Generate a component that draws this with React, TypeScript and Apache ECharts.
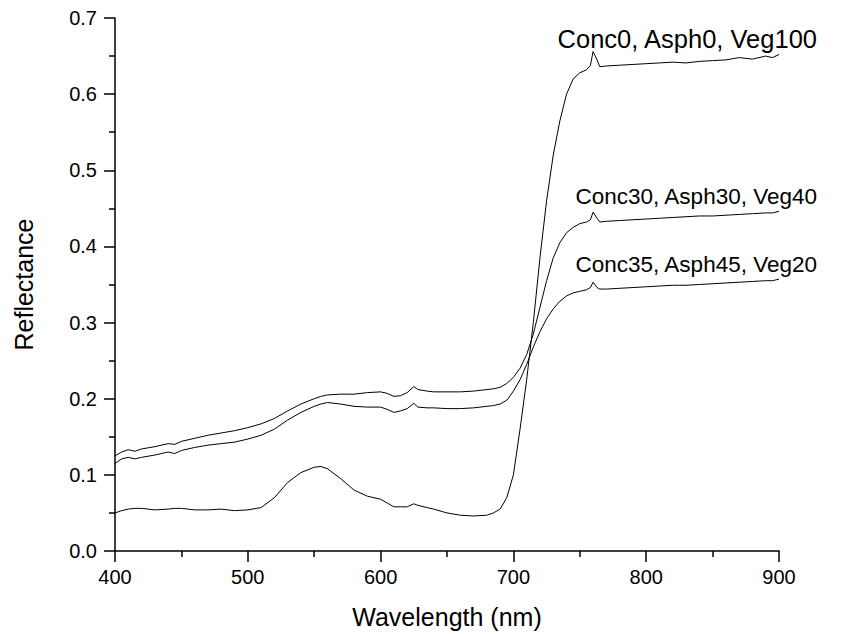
import React, { useEffect, useRef } from "react";
import * as echarts from "echarts";

const wavelengths = [400, 405, 410, 415, 420, 430, 440, 445, 450, 460, 470, 480, 490, 500, 510, 520, 530, 540, 550, 555, 560, 570, 580, 590, 600, 605, 610, 615, 620, 625, 628, 635, 640, 650, 660, 670, 680, 685, 690, 695, 700, 705, 710, 715, 720, 725, 730, 735, 740, 745, 750, 755, 758, 760, 763, 765, 770, 780, 790, 800, 810, 820, 830, 840, 850, 860, 870, 880, 890, 895, 900];

const veg100 = [0.050, 0.053, 0.055, 0.056, 0.056, 0.054, 0.055, 0.056, 0.056, 0.054, 0.054, 0.055, 0.053, 0.054, 0.057, 0.070, 0.090, 0.103, 0.110, 0.111, 0.108, 0.095, 0.080, 0.072, 0.068, 0.063, 0.058, 0.058, 0.058, 0.062, 0.060, 0.057, 0.055, 0.050, 0.047, 0.046, 0.047, 0.050, 0.055, 0.070, 0.100, 0.160, 0.225, 0.300, 0.385, 0.460, 0.520, 0.565, 0.600, 0.620, 0.628, 0.632, 0.638, 0.656, 0.645, 0.636, 0.637, 0.638, 0.639, 0.640, 0.641, 0.642, 0.641, 0.643, 0.644, 0.645, 0.648, 0.646, 0.650, 0.648, 0.652];

const veg40 = [0.125, 0.130, 0.133, 0.131, 0.134, 0.137, 0.141, 0.140, 0.144, 0.148, 0.152, 0.155, 0.158, 0.162, 0.167, 0.174, 0.184, 0.193, 0.200, 0.203, 0.205, 0.206, 0.206, 0.208, 0.209, 0.207, 0.203, 0.204, 0.208, 0.216, 0.212, 0.210, 0.209, 0.209, 0.209, 0.210, 0.212, 0.213, 0.215, 0.220, 0.228, 0.240, 0.258, 0.285, 0.320, 0.355, 0.385, 0.405, 0.418, 0.425, 0.430, 0.432, 0.435, 0.445, 0.437, 0.432, 0.433, 0.434, 0.435, 0.436, 0.437, 0.438, 0.439, 0.440, 0.440, 0.441, 0.442, 0.443, 0.444, 0.444, 0.446];

const veg20 = [0.115, 0.121, 0.123, 0.121, 0.123, 0.126, 0.130, 0.128, 0.132, 0.136, 0.139, 0.141, 0.143, 0.147, 0.152, 0.160, 0.172, 0.182, 0.190, 0.193, 0.195, 0.193, 0.190, 0.189, 0.189, 0.186, 0.182, 0.184, 0.187, 0.194, 0.189, 0.188, 0.188, 0.187, 0.187, 0.188, 0.190, 0.191, 0.193, 0.198, 0.210, 0.225, 0.245, 0.268, 0.288, 0.305, 0.318, 0.328, 0.335, 0.339, 0.341, 0.343, 0.346, 0.353, 0.346, 0.344, 0.344, 0.345, 0.346, 0.347, 0.348, 0.349, 0.349, 0.350, 0.351, 0.352, 0.353, 0.354, 0.355, 0.355, 0.357];

const seriesNames = ["Conc0, Asph0, Veg100", "Conc30, Asph30, Veg40", "Conc35, Asph45, Veg20"];
const seriesValues = [veg100, veg40, veg20];
const labelFontSizes = [25.5, 22.5, 22.5];

const xTicks = [400, 500, 600, 700, 800, 900];
const yTicks = [0, 0.1, 0.2, 0.3, 0.4, 0.5, 0.6, 0.7];

const FONT = "'Liberation Sans', Arial, sans-serif";

export default function App() {
  const ref = useRef<HTMLDivElement>(null);
  useEffect(() => {
    if (!ref.current) return;
    const chart = echarts.init(ref.current, null, { renderer: "svg" });
    const axisLine = { show: true, onZero: false, lineStyle: { color: "#000", width: 1.5 } };
    chart.setOption({
      animation: false,
      backgroundColor: "#fff",
      grid: { left: 115, right: 81, top: 18, bottom: 81, containLabel: false },
      xAxis: {
        type: "value",
        min: xTicks[0],
        max: xTicks[xTicks.length - 1],
        interval: 100,
        name: "Wavelength (nm)",
        nameLocation: "middle",
        nameGap: 53,
        nameTextStyle: { fontFamily: FONT, fontSize: 25, color: "#000" },
        axisLine,
        axisTick: { show: true, inside: false, length: 11, lineStyle: { color: "#000", width: 1.5 } },
        minorTick: { show: true, splitNumber: 2, length: 6, lineStyle: { color: "#000", width: 1.5 } },
        axisLabel: { fontFamily: FONT, fontSize: 20, color: "#000", margin: 16 },
        splitLine: { show: false },
      },
      yAxis: {
        type: "value",
        min: yTicks[0],
        max: yTicks[yTicks.length - 1],
        interval: 0.1,
        name: "Reflectance",
        nameLocation: "middle",
        nameGap: 79,
        nameTextStyle: { fontFamily: FONT, fontSize: 25, color: "#000" },
        axisLine,
        axisTick: { show: true, inside: false, length: 11, lineStyle: { color: "#000", width: 1.5 } },
        minorTick: { show: true, splitNumber: 2, length: 6, lineStyle: { color: "#000", width: 1.5 } },
        axisLabel: {
          fontFamily: FONT,
          fontSize: 20,
          color: "#000",
          margin: 18,
          formatter: (v: number) => v.toFixed(1),
        },
        splitLine: { show: false },
      },
      series: seriesValues.map((vals, i) => ({
        name: seriesNames[i],
        type: "line",
        data: wavelengths.map((w, j) => [w, vals[j]]),
        showSymbol: false,
        symbol: "none",
        smooth: false,
        lineStyle: { color: "#000", width: 1 },
        silent: true,
      })),
    });
    const graphics = seriesValues.map((vals, i) => {
      const p = chart.convertToPixel({ gridIndex: 0 }, [wavelengths[wavelengths.length - 1], vals[vals.length - 1]]) as number[];
      return {
        type: "text",
        x: p[0] + 38,
        y: p[1] - 3,
        style: {
          text: seriesNames[i],
          font: `${labelFontSizes[i]}px ${FONT}`,
          fill: "#000",
          textAlign: "right",
          textVerticalAlign: "bottom",
        },
      };
    });
    chart.setOption({ graphic: graphics });
    return () => chart.dispose();
  }, []);
  return <div ref={ref} style={{ position: "fixed", left: 0, top: 0, width: 860, height: 634 }} />;
}
